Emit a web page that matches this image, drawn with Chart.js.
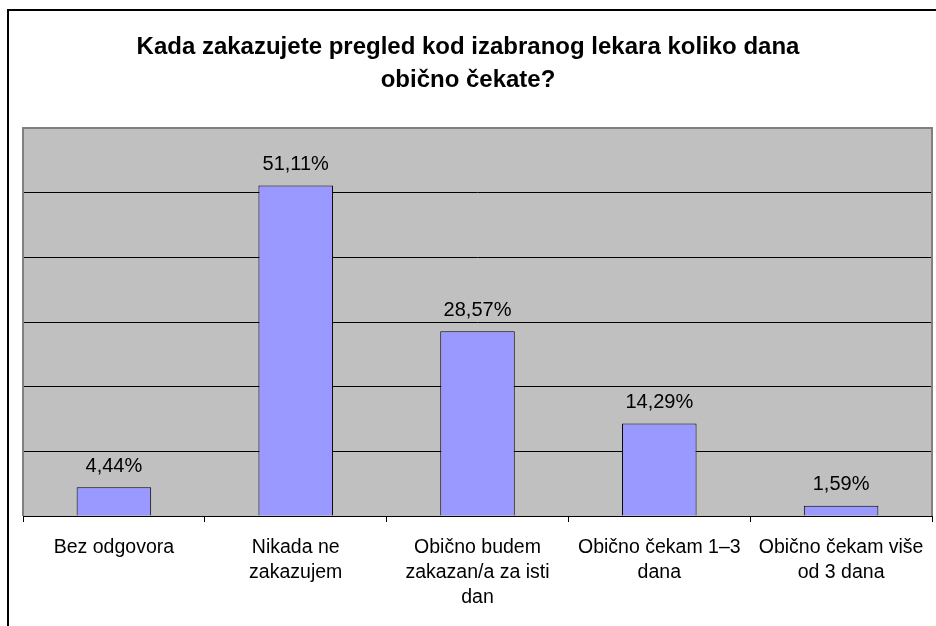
<!DOCTYPE html>
<html>
<head>
<meta charset="utf-8">
<script src="https://cdn.jsdelivr.net/npm/chart.js@4.4.1/dist/chart.umd.min.js"></script>
<style>
html,body{margin:0;padding:0;background:#fff;}
#wrap{width:936px;height:626px;position:relative;}
</style>
</head>
<body>
<div id="wrap"><canvas id="c" width="936" height="626"></canvas></div>
<script>
const titleLines = ['Kada zakazujete pregled kod izabranog lekara koliko dana', 'obično čekate?'];
const categories = [
  ['Bez odgovora'],
  ['Nikada ne', 'zakazujem'],
  ['Obično budem', 'zakazan/a za isti', 'dan'],
  ['Obično čekam 1–3', 'dana'],
  ['Obično čekam više', 'od 3 dana']
];
const values = [4.44, 51.11, 28.57, 14.29, 1.59];
const yMin = 0, yMax = 60, yStep = 10;

const FONT = "'Liberation Sans', Arial, sans-serif";

const decorPlugin = {
  id: 'decor',
  beforeDraw(chart) {
    const {ctx, chartArea: a} = chart;
    ctx.save();
    ctx.fillStyle = '#fff';
    ctx.fillRect(0, 0, chart.width, chart.height);
    ctx.fillStyle = '#C0C0C0';
    ctx.fillRect(a.left, a.top, a.right - a.left, a.bottom - a.top);
    // outer frame
    ctx.strokeStyle = '#000';
    ctx.lineWidth = 2;
    ctx.beginPath();
    ctx.moveTo(8, chart.height);
    ctx.lineTo(8, 10);
    ctx.lineTo(chart.width, 10);
    ctx.stroke();
    // title
    ctx.fillStyle = '#000';
    ctx.font = 'bold 24px ' + FONT;
    ctx.textAlign = 'center';
    ctx.textBaseline = 'middle';
    titleLines.forEach((t, i) => ctx.fillText(t, chart.width / 2, 47 + i * 33));
    ctx.restore();
  },
  afterDatasetsDraw(chart) {
    const {ctx, chartArea: a} = chart;
    ctx.save();
    // plot border (grey) top/left/right
    ctx.strokeStyle = '#808080';
    ctx.lineWidth = 2;
    ctx.beginPath();
    ctx.moveTo(a.left, a.bottom);
    ctx.lineTo(a.left, a.top);
    ctx.lineTo(a.right, a.top);
    ctx.lineTo(a.right, a.bottom);
    ctx.stroke();
    // data labels
    const meta = chart.getDatasetMeta(0);
    ctx.fillStyle = '#000';
    ctx.font = '20px ' + FONT;
    ctx.textAlign = 'center';
    ctx.textBaseline = 'middle';
    meta.data.forEach((bar, i) => {
      const v = chart.data.datasets[0].data[i];
      ctx.fillText(v.toFixed(2).replace('.', ',') + '%', bar.x, bar.y - 21);
    });
    ctx.restore();
  }
};

new Chart(document.getElementById('c'), {
  type: 'bar',
  data: {
    labels: categories,
    datasets: [{
      data: values,
      backgroundColor: '#9999FF',
      borderColor: '#000',
      borderWidth: 1,
      barPercentage: 0.41,
      categoryPercentage: 1
    }]
  },
  options: {
    responsive: false,
    animation: false,
    devicePixelRatio: 1,
    layout: { padding: { left: 23, right: 4, top: 128, bottom: 0 } },
    plugins: {
      legend: { display: false },
      tooltip: { enabled: false },
      title: { display: false }
    },
    scales: {
      x: {
        offset: true,
        grid: {
          offset: true,
          drawOnChartArea: false,
          drawTicks: true,
          tickLength: 6,
          color: '#000',
          lineWidth: 1
        },
        border: { display: true, color: '#000', width: 1 },
        ticks: {
          color: '#000',
          font: { family: FONT, size: 19.5, lineHeight: 1.28 },
          padding: 13,
          maxRotation: 0,
          autoSkip: false
        },
        afterFit(scale) {
          scale.height = 110;
          scale.paddingLeft = 0;
          scale.paddingRight = 0;
        }
      },
      y: {
        min: yMin,
        max: yMax,
        ticks: { display: false, stepSize: yStep },
        grid: { color: '#000', lineWidth: 1, drawTicks: false },
        border: { display: false },
        afterFit(scale) {
          scale.width = 0;
          scale.paddingTop = 0;
          scale.paddingBottom = 0;
        }
      }
    }
  },
  plugins: [decorPlugin]
});
</script>
</body>
</html>
